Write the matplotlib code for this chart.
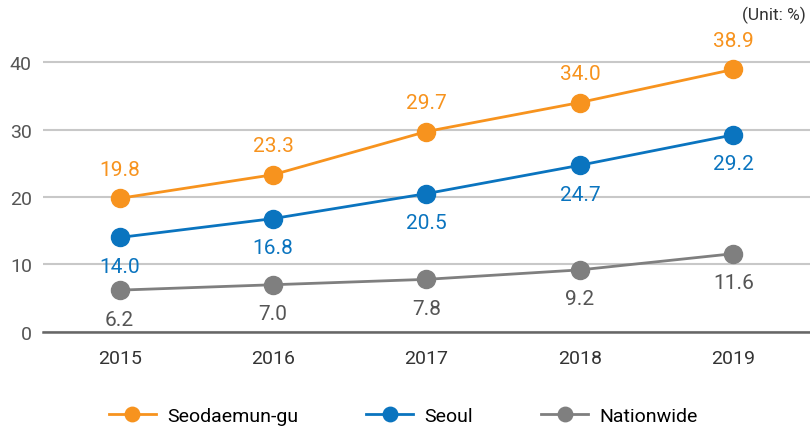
import matplotlib.pyplot as plt

plt.rcParams['font.family'] = ['Roboto', 'DejaVu Sans']

years = ['2015', '2016', '2017', '2018', '2019']
seodaemun = [19.8, 23.3, 29.7, 34.0, 38.9]
seoul = [14.0, 16.8, 20.5, 24.7, 29.2]
nationwide = [6.2, 7.0, 7.8, 9.2, 11.6]

series = [
    ('Seodaemun-gu', seodaemun, '#F7931E', 'above'),
    ('Seoul', seoul, '#0A74BF', 'below'),
    ('Nationwide', nationwide, '#7F7F7F', 'below'),
]

fig = plt.figure(figsize=(8.10, 4.31), dpi=100)
ax = fig.add_axes([0.053, 0.2274, 0.947, 0.6734])

x = list(range(len(years)))
for name, vals, color, pos in series:
    ax.plot(x, vals, color=color, lw=2.0, marker='o', markersize=13,
            label=name, zorder=3, clip_on=False)
    for xi, v in zip(x, vals):
        dy = 14 if pos == 'above' else -14
        va = 'bottom' if pos == 'above' else 'top'
        text_color = '#555555' if name == 'Nationwide' else color
        ax.annotate(f'{v:.1f}', (xi, v), xytext=(0, dy), textcoords='offset points',
                    ha='center', va=va, fontsize=15, color=text_color, zorder=4)

ax.set_xlim(-0.5, 4.5)
ax.set_ylim(0, 43)
ax.set_yticks([0, 10, 20, 30, 40])
ax.set_xticks(x)
ax.set_xticklabels(years)
ax.grid(axis='y', color='#C8C8C8', lw=1.5, zorder=0)
ax.set_axisbelow(True)
for s in ['top', 'right', 'left']:
    ax.spines[s].set_visible(False)
ax.spines['bottom'].set_color('#666666')
ax.spines['bottom'].set_linewidth(1.8)
ax.tick_params(axis='both', length=0, labelsize=14, colors='#333333')
ax.tick_params(axis='y', pad=8, labelcolor='#555555')
ax.tick_params(axis='x', pad=12)

fig.text(0.995, 0.965, '(Unit: %)', ha='right', va='center', fontsize=12.5, color='#333333')

ax.legend(loc='center', bbox_to_anchor=(0.47, -0.29), ncol=3, frameon=False,
          fontsize=14, handlelength=2.4, markerscale=0.8, columnspacing=3.5,
          handletextpad=0.6)

fig.savefig('out.png', dpi=100)
